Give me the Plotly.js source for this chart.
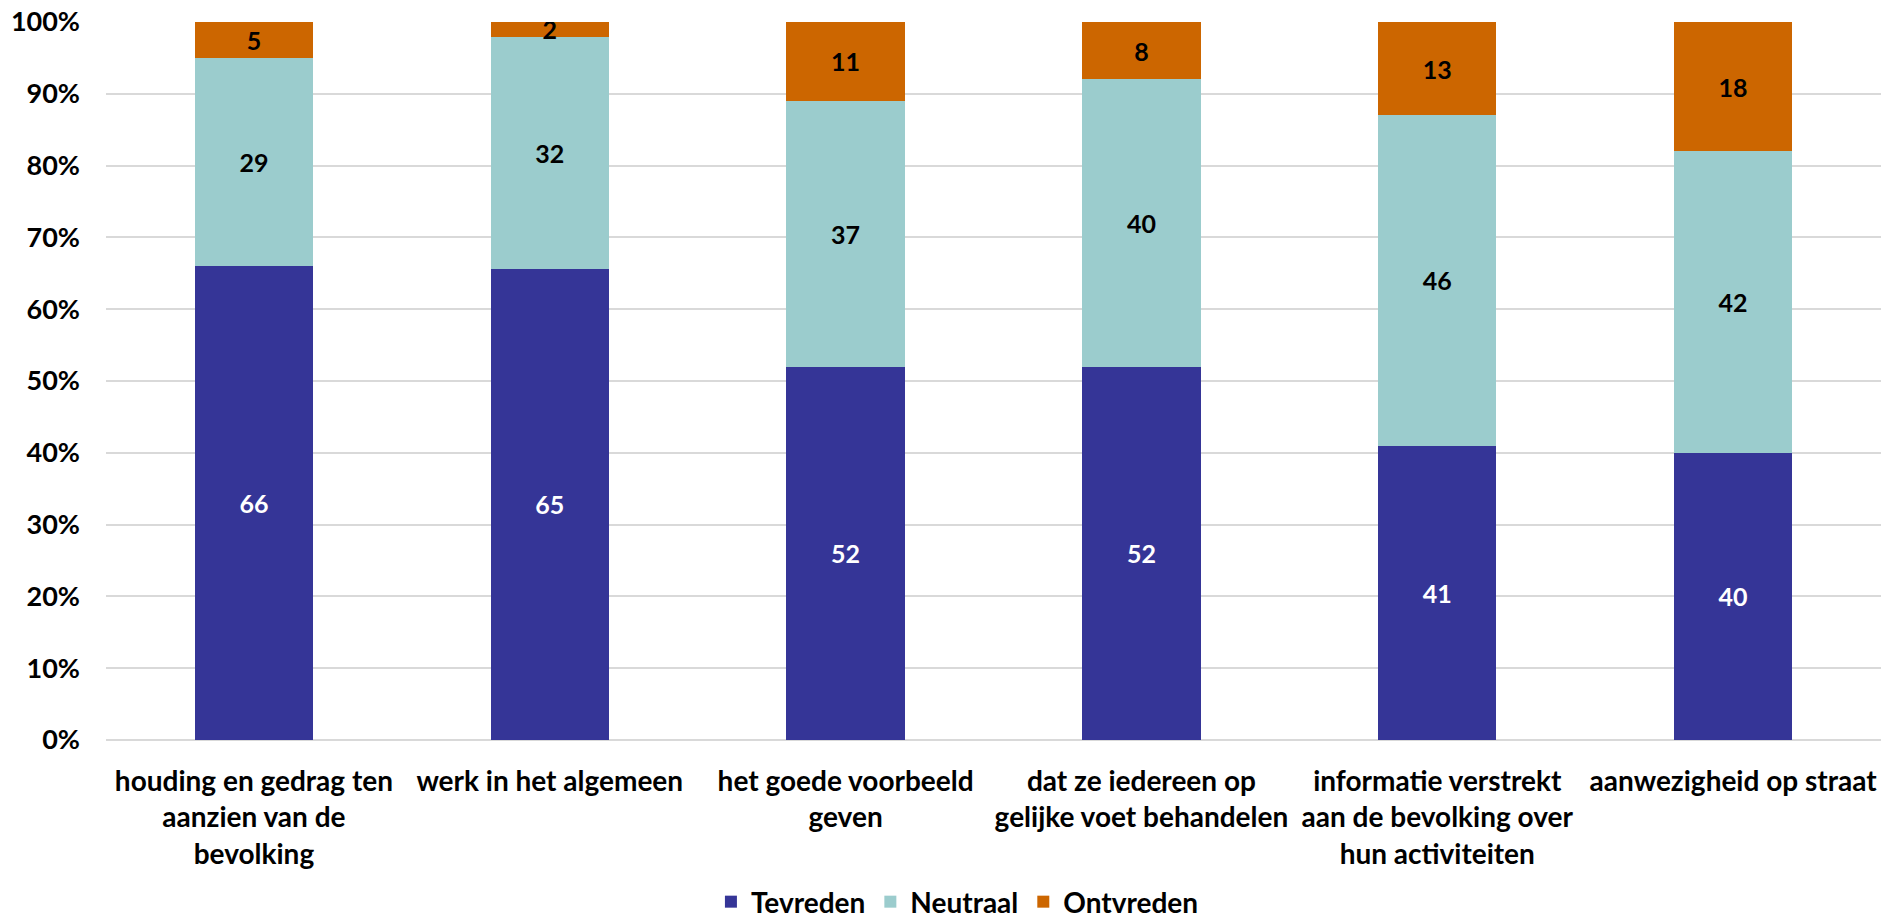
<!DOCTYPE html>
<html>
<head>
<meta charset="utf-8">
<script src="https://cdn.plot.ly/plotly-3.0.1.min.js"></script>
<style>html,body{margin:0;padding:0;background:#fff;overflow:hidden;}#chart{width:1881px;height:920px;}</style>
</head>
<body>
<div id="chart"></div>
<script>
const categories = [
  "houding en gedrag ten<br>aanzien van de<br>bevolking",
  "werk in het algemeen",
  "het goede voorbeeld<br>geven",
  "dat ze iedereen op<br>gelijke voet behandelen",
  "informatie verstrekt<br>aan de bevolking over<br>hun activiteiten",
  "aanwezigheid op straat"
];
const tevreden = [66, 65, 52, 52, 41, 40];
const neutraal = [29, 32, 37, 40, 46, 42];
const ontvreden = [5, 2, 11, 8, 13, 18];
const seriesNames = ["Tevreden", "Neutraal", "Ontvreden"];
const colors = ["#353597", "#9BCCCD", "#CC6600"];
const textColors = ["#FFFFFF", "#000000", "#000000"];
const yTicks = [0, 10, 20, 30, 40, 50, 60, 70, 80, 90, 100];

const FONT = "Lato, 'Open Sans', sans-serif";
const series = [tevreden, neutraal, ontvreden];
const data = series.map((vals, i) => ({
  type: "bar",
  name: seriesNames[i],
  x: categories,
  y: vals,
  text: vals.map(String),
  textposition: "inside",
  insidetextanchor: "middle",
  textangle: 0,
  textfont: {family: FONT, size: 25, color: textColors[i], weight: 700},
  marker: {color: colors[i]},
  hoverinfo: "skip"
}));

const layout = {
  width: 1881,
  height: 920,
  margin: {l: 106, r: 0, t: 22, b: 180},
  paper_bgcolor: "#FFFFFF",
  plot_bgcolor: "#FFFFFF",
  barmode: "stack",
  barnorm: "percent",
  bargap: 0.6,
  font: {family: FONT, size: 25, color: "#000000", weight: 700},
  uniformtext: {mode: "show", minsize: 25},
  showlegend: true,
  legend: {
    orientation: "h",
    xref: "container", yref: "container",
    x: 0.509, xanchor: "center",
    y: 0.0196, yanchor: "middle",
    font: {family: FONT, size: 28, color: "#000000", weight: 700},
    traceorder: "normal",
    itemwidth: 30
  },
  xaxis: {
    type: "category",
    showgrid: false,
    showline: false,
    ticks: "",
    ticklabelstandoff: 22,
    tickfont: {family: FONT, size: 28, color: "#000000", weight: 700},
    automargin: false
  },
  yaxis: {
    range: [0, 100],
    tickvals: yTicks,
    ticktext: yTicks.map(v => v + "%"),
    showgrid: true,
    gridcolor: "#D9D9D9",
    gridwidth: 2,
    zeroline: true,
    zerolinecolor: "#D9D9D9",
    zerolinewidth: 2,
    showline: false,
    ticks: "",
    ticklabelstandoff: 25,
    tickfont: {family: FONT, size: 27, color: "#000000", weight: 700},
    automargin: false
  }
};

Plotly.newPlot("chart", data, layout, {displayModeBar: false, staticPlot: true});
</script>
</body>
</html>
